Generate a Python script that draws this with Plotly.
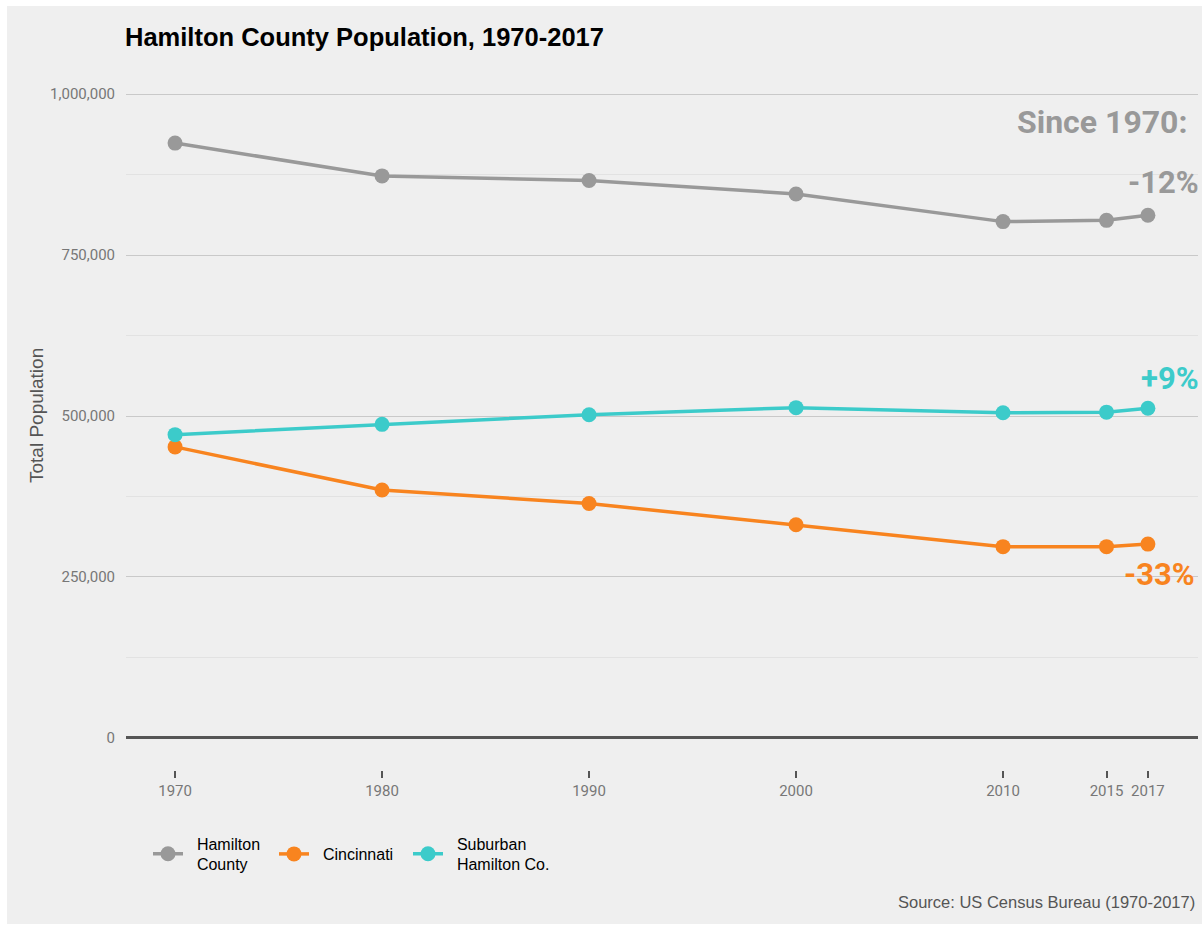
import plotly.graph_objects as go

# Census counts by year (approximate)
years = [1970, 1980, 1990, 2000, 2010, 2015, 2017]
hamilton = [924000, 873000, 866000, 845000, 802000, 804000, 812000]
cincinnati = [452000, 385000, 364000, 331000, 297000, 297000, 301000]
suburban = [471000, 487000, 502000, 513000, 505000, 506000, 512000]

series_names = ["Hamilton<br>County", "Cincinnati", "Suburban<br>Hamilton Co."]
series_values = [hamilton, cincinnati, suburban]
series_colors = ["#999999", "#F8841F", "#3CCBCA"]

y_ticks = [0, 250000, 500000, 750000, 1000000]
y_labels = ["0", "250,000", "500,000", "750,000", "1,000,000"]

W, H = 1202, 926
L, R, T, B = 126, 4, 62, 156
PW, PH = W - L - R, H - T - B

BG = "#EFEFEF"
TICKFONT = "Roboto, sans-serif"
SANS = "Liberation Sans, Arial, sans-serif"
NBSP = "\u00a0\u00a0"


def px_x(px):
    return (px - L) / PW


def px_y(py):
    return (H - B - py) / PH


# one legend box per series so each entry sits centred on the same row
legend_ids = ["legend", "legend2", "legend3"]
legend_left = [148, 274, 408]

fig = go.Figure()
for name, vals, col, lid in zip(series_names, series_values, series_colors, legend_ids):
    label = "<br>".join(NBSP + part for part in name.split("<br>"))
    fig.add_trace(go.Scatter(
        x=years, y=vals, name=label, mode="lines+markers",
        line=dict(color=col, width=3.5),
        marker=dict(color=col, size=15),
        legend=lid,
    ))


def pct_label(vals):
    p = round((vals[-1] / vals[0] - 1) * 100)
    return f"{p:+d}%"


annotations = [
    dict(text="<b>Since 1970:</b>", x=px_x(1189), y=px_y(122), xref="paper", yref="paper",
         xanchor="right", yanchor="middle", showarrow=False,
         font=dict(family="Roboto", size=32, color="#999999")),
    dict(text=f"<b>{pct_label(hamilton)}</b>", x=px_x(1201), y=px_y(183), xref="paper", yref="paper",
         xanchor="right", yanchor="middle", showarrow=False,
         font=dict(family="Roboto", size=31, color="#999999")),
    dict(text=f"<b>{pct_label(suburban)}</b>", x=px_x(1201), y=px_y(379), xref="paper", yref="paper",
         xanchor="right", yanchor="middle", showarrow=False,
         font=dict(family="Roboto", size=31, color="#3CCBCA")),
    dict(text=f"<b>{pct_label(cincinnati)}</b>", x=px_x(1197), y=px_y(574), xref="paper", yref="paper",
         xanchor="right", yanchor="middle", showarrow=False,
         font=dict(family="Roboto", size=31, color="#F8841F")),
    dict(text="Total Population", x=px_x(36), y=px_y(416), xref="paper", yref="paper",
         xanchor="center", yanchor="middle", textangle=-90, showarrow=False,
         font=dict(family=SANS, size=19, color="#555555")),
    dict(text="Source: US Census Bureau (1970-2017)", x=px_x(1197), y=px_y(902),
         xref="paper", yref="paper", xanchor="right", yanchor="middle", showarrow=False,
         font=dict(family=SANS, size=16.5, color="#555555")),
]

legend_style = dict(
    orientation="h", yanchor="middle", xanchor="left", y=px_y(854),
    bgcolor="rgba(0,0,0,0)", valign="middle", itemwidth=30,
    font=dict(family=SANS, size=16, color="black"),
)

fig.update_layout(
    width=W, height=H,
    margin=dict(l=L, r=R, t=T, b=B, autoexpand=False),
    paper_bgcolor="white",
    plot_bgcolor=BG,
    title=dict(text="<b>Hamilton County Population, 1970-2017</b>",
               x=125 / W, xanchor="left", xref="container",
               y=1 - 37 / H, yanchor="middle", yref="container",
               font=dict(family=SANS, size=25.5, color="black")),
    xaxis=dict(
        range=[1967.63, 2019.42],
        tickvals=years, ticktext=[str(y) for y in years],
        showgrid=False, zeroline=False, showline=False,
        ticks="outside", ticklen=7, tickwidth=1.5, tickcolor="#555555",
        tickfont=dict(family=TICKFONT, size=15, color="#777777"),
    ),
    yaxis=dict(
        range=[-50000, 1050000],
        tickvals=y_ticks, ticktext=y_labels,
        showgrid=True, gridcolor="#C9C9C9", gridwidth=1,
        minor=dict(tickvals=[125000, 375000, 625000, 875000], showgrid=True,
                   gridcolor="#E2E2E2", gridwidth=1),
        zeroline=True, zerolinecolor="#555555", zerolinewidth=2.5,
        showline=False, ticks="", ticklabelstandoff=10,
        tickfont=dict(family=TICKFONT, size=15, color="#777777"),
    ),
    annotations=annotations,
    shapes=[dict(type="rect", xref="paper", yref="paper", layer="below",
                 x0=px_x(7), x1=px_x(1210), y0=px_y(924), y1=px_y(6),
                 fillcolor=BG, line=dict(width=0))],
    showlegend=True,
)
for lid, left in zip(legend_ids, legend_left):
    fig.update_layout({lid: dict(legend_style, x=px_x(left))})

fig.write_html("out.html")
